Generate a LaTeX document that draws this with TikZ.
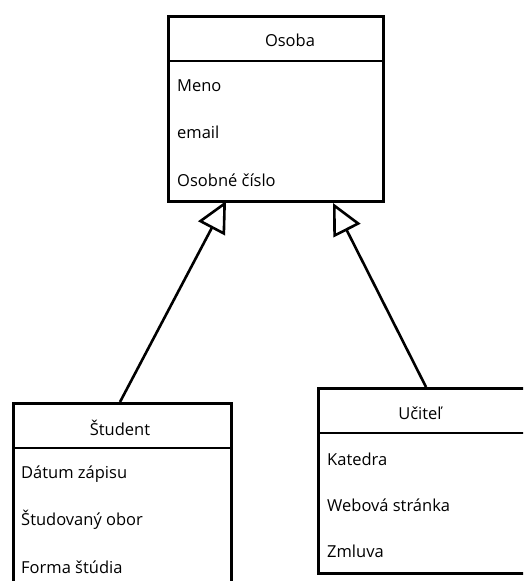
\documentclass[tikz,border=0pt]{standalone}
\usepackage{fontspec}
\setmainfont{Open Sans}
\usetikzlibrary{arrows.meta}
\begin{document}
\begin{tikzpicture}[x=1pt,y=-1pt,
  classbox/.style={draw=black,line width=2.6pt,rectangle,inner sep=0pt,anchor=north west},
  sepline/.style={line width=2pt},
  lbl/.style={font=\fontsize{16.5}{19}\selectfont,inner sep=0pt},
  attr/.style={lbl,anchor=west},
  gen/.style={line width=2.6pt,-{Triangle[open,length=31pt,width=30pt,line width=2.6pt]}}]
\useasboundingbox (0,0) rectangle (523,581);
\clip (0,0) rectangle (523,581);
% Osoba
\node[classbox,minimum width=215pt,minimum height=185pt] (osoba) at (167,15) {};
\draw[sepline] (167,61) -- (382,61);
\node[lbl] (osobaT) at (290,40) {Osoba};
\node[attr] (a1) at (177,86) {Meno};
\node[attr] (a2) at (177,132) {email};
\node[attr] (a3) at (177,180) {Osobné číslo};
% Student
\node[classbox,minimum width=218pt,minimum height=200pt] (stud) at (12,402) {};
\draw[sepline] (12,448) -- (230,448);
\node[lbl] (studT) at (120,428) {Študent};
\node[attr] (s1) at (21,474) {Dátum zápisu};
\node[attr] (s2) at (21,520) {Študovaný obor};
\node[attr] (s3) at (21,567) {Forma štúdia};
% Ucitel
\node[classbox,minimum width=220pt,minimum height=185pt] (uc) at (317,387) {};
\draw[sepline] (317,433) -- (537,433);
\node[lbl] (ucT) at (420,413) {Učiteľ};
\node[attr] (u1) at (327,459) {Katedra};
\node[attr] (u2) at (327,505) {Webová stránka};
\node[attr] (u3) at (327,551) {Zmluva};
% arrows
\coordinate (sTop) at (120,402);
\coordinate (oL) at (226,201);
\coordinate (uTop) at (426,387);
\coordinate (oR) at (333,203);
\draw[gen] (sTop) -- (oL);
\draw[gen] (uTop) -- (oR);
\end{tikzpicture}
\end{document}
